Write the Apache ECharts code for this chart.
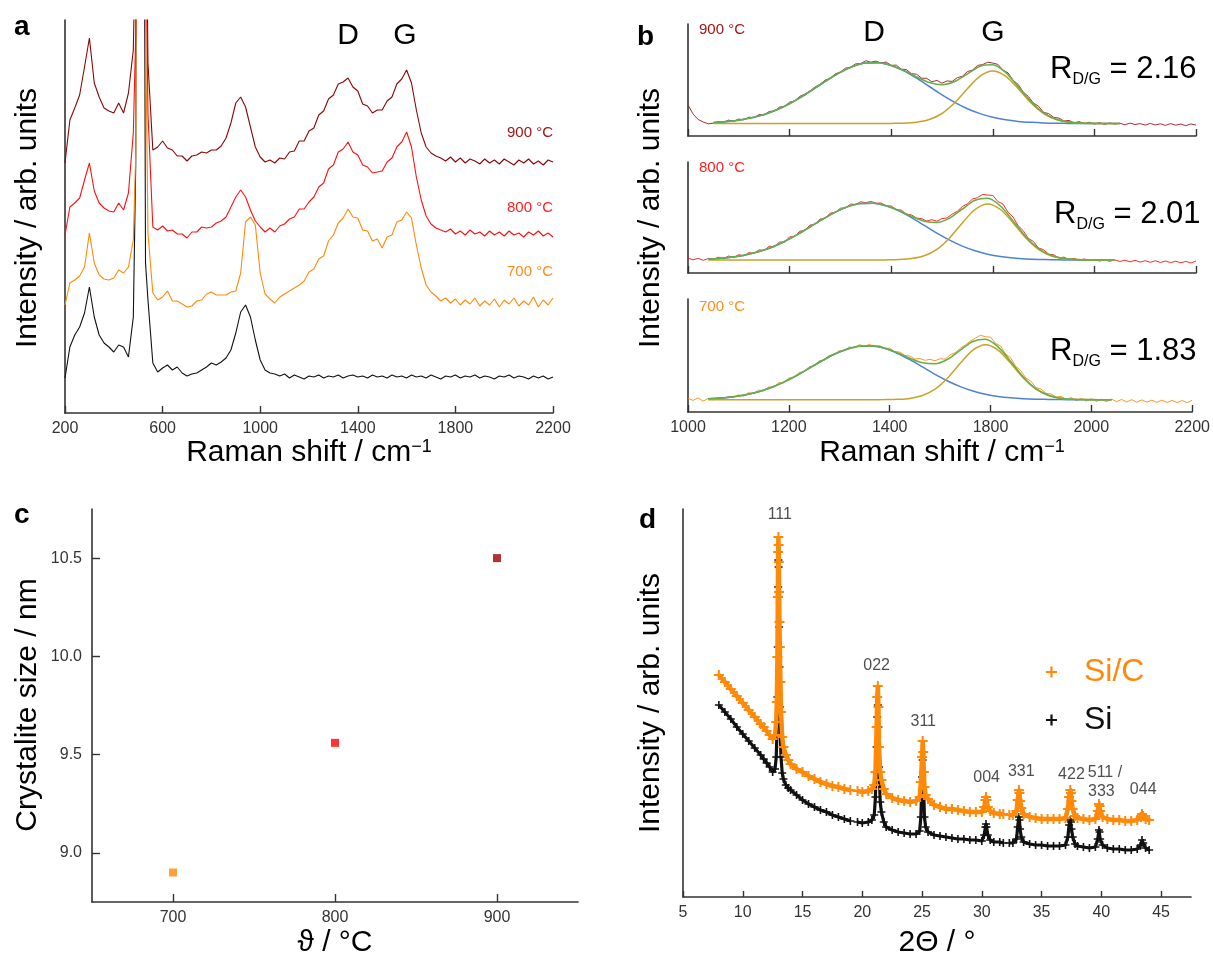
<!DOCTYPE html>
<html><head><meta charset="utf-8">
<script src="https://cdn.jsdelivr.net/npm/echarts@6/dist/echarts.min.js"></script>
<style>html,body{margin:0;padding:0;background:#fff}#c{width:1213px;height:959px}</style>
</head><body><div id="c"></div>
<script>
const FONT = "'Liberation Sans', Arial, Helvetica, sans-serif";
const range = (a, b, s) => { const r = []; for (let v = a; v <= b + 1e-9; v += s) r.push(v); return r; };

// ---------- Panel a: Raman spectra (arb. units) ----------
const ramanAShift = [...range(200, 480, 20), 490, 500, 510, 520, 530, ...range(540, 2200, 20)];
const ramanA_Si = [
 35,66,78,86,100,126,96,78,70,66,
 61,68,66,56,96,250,2000,2000,900,150,113,50,41,
 45,48,43,46,40,37,39,40,43,46,
 50,48,51,55,63,80,101,108,96,73,
 53,43,40,39,37,39,35,38,36,34,
 37,36,38,35,37,36,38,35,37,38,
 36,37,35,38,36,37,35,38,36,37,
 35,38,36,37,35,38,36,34,37,36,
 38,35,37,36,38,35,37,36,34,37,
 36,38,35,37,36,34,37,35,37,34,
 36];
const ramanA_700 = [
 108,130,133,137,146,180,150,138,134,133,
 135,143,140,146,173,260,2000,2000,1200,400,180,120,113,
 116,122,112,112,109,106,107,112,113,119,
 121,118,118,118,121,122,140,191,196,188,
 140,119,114,110,116,119,122,125,128,132,
 141,144,154,157,172,178,190,195,204,196,
 195,183,182,172,174,165,176,178,191,193,
 201,195,168,145,128,121,117,112,115,110,
 114,108,113,109,115,107,112,108,114,106,
 113,109,115,107,112,108,116,106,113,108,
 115];
const ramanA_800 = [
 178,206,210,215,233,250,222,210,205,202,
 201,210,203,220,280,380,2000,2000,1200,500,300,186,183,
 187,182,183,179,179,175,181,181,186,185,
 186,190,192,196,206,216,223,216,203,192,
 186,181,185,181,187,189,194,196,204,204,
 211,216,226,230,244,248,261,264,271,261,
 258,248,246,240,241,242,251,255,266,271,
 281,266,236,213,197,189,185,183,181,184,
 179,182,178,183,179,181,177,182,178,181,
 177,182,178,180,176,181,178,182,177,180,
 176];
const ramanA_900 = [
 250,293,305,318,346,375,330,316,305,302,
 300,310,300,320,363,500,2000,2000,1200,600,350,263,266,
 272,265,263,257,257,252,257,258,261,260,
 263,263,267,275,290,310,316,306,286,266,
 256,251,253,250,255,254,261,262,272,272,
 282,285,298,302,314,318,329,331,335,326,
 322,309,307,300,303,303,312,316,329,334,
 343,330,303,280,266,260,257,255,252,256,
 251,255,250,254,252,249,254,250,253,249,
 254,251,248,253,250,254,249,252,248,253,
 251];
const ramanATicks = [200, 600, 1000, 1400, 1800, 2200];

// ---------- Panel b: D/G region, data 1000..2000 step 10, fits step 25 ----------
const ramanBStart = 1000, ramanBStep = 10;
const ramanBTickLabels = ['1000', '1200', '1400', '1800', '2000', '2200'];
const ramanB_900 = [
 31,22,16.5,14,12.2,12.8,14.5,13.4,15.9,14.6,
 16.9,16.1,18.9,18.2,21.5,21.1,24.6,24.8,28.9,29.6,
 33.8,35.0,39.6,41.9,45.1,48.9,51.7,55.9,57.6,62.2,
 63.9,67.8,68.9,72.1,72.4,75.3,73.8,74.9,72.9,74.0,
 70.6,70.9,66.8,66.4,62.3,61.8,57.8,57.6,54.2,55.6,
 52.8,55.1,54.6,58.3,59.7,64.4,65.9,70.6,71.4,73.8,
 72.9,71.6,66.0,63.2,55.6,51.6,43.9,39.5,32.9,29.8,
 23.6,22.4,18.6,17.9,15.0,15.6,13.1,14.4,12.4,13.8,
 12.0,13.3,11.6,13.0,11.9,12.8,11.2,12.9,11.5,12.4,
 10.9,12.6,11.0,12.2,10.6,12.4,10.8,11.9,10.3,12.1,
 10.9];
const ramanB_800 = [
 14.8,13.2,14.6,12.7,14.5,13.6,15.8,14.3,17.0,15.4,
 18.3,17.1,20.4,19.5,23.1,22.6,26.8,26.1,31.0,30.8,
 36.2,36.4,41.8,42.7,47.9,48.8,54.0,54.6,59.9,60.4,
 64.8,65.1,68.9,68.5,71.3,70.2,71.6,69.8,70.0,67.2,
 67.0,63.4,62.9,58.8,58.1,54.9,54.4,52.0,53.3,51.8,
 54.4,55.0,58.9,61.6,66.5,69.1,74.0,75.4,78.6,77.9,
 77.6,71.5,68.9,60.8,55.9,47.2,42.3,34.6,31.5,25.0,
 23.3,18.8,18.2,15.0,15.9,13.4,14.7,12.6,14.1,12.3,
 13.6,11.9,13.2,11.7,13.1,11.5,12.8,11.2,12.6,10.9,
 12.3,10.7,12.2,10.5,12.0,10.4,11.8,10.2,11.6,10.0,
 12.0];
const ramanB_700 = [
 13.8,11.6,14.2,10.9,13.5,12.1,14.6,13.0,15.7,14.4,
 17.2,15.8,19.3,18.4,21.9,21.2,25.1,24.6,29.3,29.1,
 34.1,34.4,39.5,40.2,45.3,46.0,51.2,51.7,56.6,57.1,
 61.3,61.2,65.0,64.1,67.4,65.6,67.7,65.2,66.4,63.6,
 63.8,60.4,59.9,56.6,55.9,53.0,53.4,51.7,52.6,51.3,
 53.2,52.9,57.2,59.3,63.8,66.9,71.0,73.9,76.8,75.2,
 74.9,68.6,66.0,57.8,54.1,45.6,41.5,33.9,31.0,24.3,
 23.1,18.7,18.0,14.8,15.6,12.5,14.4,11.4,13.7,10.9,
 13.2,10.6,12.8,10.3,12.9,10.4,12.5,10.0,12.3,9.8,
 12.1,9.9,11.8,9.6,11.9,9.5,11.6,9.4,11.5,9.3,
 11.8];
const fitStep = 25;
const fitStart_900 = 1050, fitStart_800 = 1040, fitStart_700 = 1040;
const fitD_900 = [13.5,14.4,15.8,18.2,21.5,26.2,32.3,39.6,47.8,56.2,63.7,69.6,73.0,73.3,70.5,65.1,57.8,49.5,41.2,33.7,27.3,22.4,18.7,16.2,14.6,13.7,13.1,12.8,12.6,12.5,12.5,12.5,12.5];
const fitG_900 = [12.5,12.5,12.5,12.5,12.5,12.5,12.5,12.5,12.5,12.5,12.5,12.5,12.5,12.5,12.6,12.8,13.8,16.5,22.5,33.2,47.3,59.9,65.0,59.9,47.3,33.2,22.5,16.5,13.8,12.8,12.6,12.5,12.5];
const fitSum_900 = [13.5,14.4,15.8,18.2,21.5,26.2,32.3,39.6,47.8,56.2,63.7,69.6,73.0,73.3,70.6,65.4,59.1,53.5,51.2,54.4,62.1,69.8,71.2,63.6,49.4,34.4,23.1,16.8,13.9,12.8,12.6,12.5,12.5];
const fitD_800 = [13.9,14.8,16.1,18.3,21.4,25.8,31.5,38.4,46.0,53.8,60.9,66.4,69.5,69.8,67.2,62.1,55.3,47.6,39.8,32.8,26.9,22.2,18.8,16.5,15.0,14.1,13.6,13.3,13.1,13.0,13.0,13.0,13.0];
const fitG_800 = [13,13,13,13,13,13,13,13,13,13,13,13,13,13,13.1,13.4,14.4,17.2,23.7,35.1,50.1,63.5,69.0,63.5,50.1,35.1,23.7,17.2,14.4,13.4,13.1,13.0,13.0];
const fitSum_800 = [13.9,14.8,16.1,18.3,21.4,25.8,31.5,38.4,46.0,53.8,60.9,66.4,69.5,69.8,67.3,62.5,56.7,51.8,50.5,54.9,64.0,72.7,74.8,67.0,52.1,36.2,24.4,17.5,14.5,13.4,13.1,13.0,13.0];
const fitD_700 = [13.2,14.0,15.3,17.3,20.3,24.5,29.9,36.3,43.6,51.0,57.7,62.8,65.8,66.1,63.7,58.8,52.4,45.1,37.7,31.0,25.4,21.0,17.8,15.6,14.2,13.3,12.8,12.6,12.4,12.3,12.3,12.3,12.3];
const fitG_700 = [12.3,12.3,12.3,12.3,12.3,12.3,12.3,12.3,12.3,12.3,12.3,12.3,12.3,12.3,12.4,12.7,13.6,16.5,22.8,34.0,48.7,61.9,67.3,61.9,48.7,34.0,22.8,16.5,13.6,12.7,12.4,12.3,12.3];
const fitSum_700 = [13.2,14.0,15.3,17.3,20.3,24.5,29.9,36.3,43.6,51.0,57.7,62.8,65.8,66.1,63.8,59.2,53.7,49.3,48.2,52.7,61.8,70.6,72.8,65.2,50.6,35.0,23.3,16.8,13.7,12.7,12.4,12.3,12.3];
const ratioText = ['2.16', '2.01', '1.83'];

// ---------- Panel c: crystallite size ----------
const crystTemp = [700, 800, 900];
const crystSize = [8.90, 9.56, 10.50];
const crystXTicks = [700, 800, 900];
const crystYTicks = [9.0, 9.5, 10.0, 10.5];

// ---------- Panel d: XRD ----------
const xrdAngle = [8.0,8.5,9.0,9.5,10.0,10.5,11.0,11.5,11.75,12.0,12.25,12.5,12.7,12.8,12.85,12.9,12.93,12.96,12.98,13.0,13.02,13.04,13.07,13.1,13.15,13.2,13.3,13.4,13.6,13.8,14.0,14.5,15.0,15.5,16.0,16.5,17.0,17.5,18.0,18.5,19.0,19.3,19.6,20.0,20.5,20.8,21.0,21.1,21.2,21.25,21.3,21.35,21.4,21.5,21.6,21.8,22.0,22.5,23.0,23.5,24.0,24.5,24.8,24.9,25.0,25.05,25.1,25.15,25.2,25.3,25.5,26.0,26.5,27.0,27.5,28.0,28.5,29.0,29.5,30.0,30.2,30.3,30.35,30.4,30.5,30.7,31.0,31.5,31.8,32.0,32.3,32.6,32.9,33.0,33.1,33.15,33.2,33.3,33.5,34.0,34.5,35.0,35.5,36.0,36.5,37.0,37.2,37.3,37.4,37.45,37.5,37.6,37.8,38.0,38.5,39.0,39.5,39.7,39.8,39.85,39.9,40.1,40.5,41.0,41.5,42.0,42.5,43.0,43.3,43.4,43.5,43.7,44.0];
const xrdSiC = [222,215,208,201,194,187,180,173,170,166,162,158,162,175,195,240,300,345,360,352,335,305,275,250,215,185,160,150,142,137,133,128,125,121,118,115,113,111,110,108,107,null,106,105,106,108,112,125,170,200,211,190,150,125,117,108,103,99,97,96,95,96,100,115,140,156,145,125,110,102,98,92,90,88,88,87,86,85,85,85,90,97,100,97,90,86,84,83,83,null,82,82,86,97,107,104,96,89,83,80,79,78,78,78,78,79,88,100,107,104,96,88,81,79,78,77,78,86,93,91,86,80,78,77,77,76,76,77,80,83,81,78,77];
const xrdSi = [192,185,178,170,163,156,149,142,138,134,130,125,128,140,160,200,250,310,337,330,300,270,230,190,160,140,124,118,112,109,107,102,97,93,90,87,85,82,80,78,76,null,75,74,75,77,82,100,150,180,192,170,130,95,85,75,70,67,65,64,63,63,66,80,120,137,125,100,80,70,65,62,61,60,59,58,58,57,57,56,62,70,73,70,62,57,55,55,54,null,54,54,58,70,80,77,68,60,55,53,52,52,51,51,51,52,60,72,77,75,68,60,53,51,50,49,50,58,67,65,58,52,49,48,48,47,47,48,52,57,54,49,47];
const xrdTicks = [5, 10, 15, 20, 25, 30, 35, 40, 45];
const xrdPeakText = ['111', '022', '311', '004', '331', '422', '511 /', '333', '044'];
const xrdPeakAngle = [13.1, 21.2, 25.1, 30.4, 33.3, 37.5, 40.3, 40.0, 43.5];
const xrdPeakHeight = [382, 231, 175, 119, 125, 122, 124, 105, 107];

// ---------- styles ----------
const C_BLACK = '#111', C_ORANGE = '#ff8a0a', C_RED = '#ff1010', C_DARK = '#8b0606';
const C_BLUE = '#4d82d6', C_GOLD = '#c9a227', C_GREEN = '#67ad48';
const CROSS = 'path://M4,0H6V4H10V6H6V10H4V6H0V4H4Z';

const onGrid = (arr, start, step) => arr.map((v, i) => [start + i * step, v]);
const pair = (xs, ys) => ys.map((v, i) => [xs[i], v]);

const axisLine = {show: true, onZero: false, lineStyle: {color: '#333', width: 1.6}};
const tick = {show: true, inside: true, length: 7, lineStyle: {color: '#333', width: 1.4}};
const lab = {color: '#333', fontSize: 16, fontFamily: FONT, margin: 8};
const noSplit = {show: false};
const hiddenY = (gi, max) => ({gridIndex: gi, type: 'value', min: 0, max: max, axisLine: axisLine,
  axisTick: {show: false}, axisLabel: {show: false}, splitLine: noSplit});

function lineS(xi, data, color, width) {
  return {type: 'line', xAxisIndex: xi, yAxisIndex: xi, data: data, showSymbol: false, symbol: 'none',
    lineStyle: {color: color, width: width}, silent: true, animation: false, z: 2};
}

const series = [
  lineS(0, pair(ramanAShift, ramanA_Si), C_BLACK, 1.1),
  lineS(0, pair(ramanAShift, ramanA_700), C_ORANGE, 1.1),
  lineS(0, pair(ramanAShift, ramanA_800), C_RED, 1.1),
  lineS(0, pair(ramanAShift, ramanA_900), C_DARK, 1.1),
];
const bSets = [
  [ramanB_900, '#a0151a', fitStart_900, fitD_900, fitG_900, fitSum_900],
  [ramanB_800, C_RED, fitStart_800, fitD_800, fitG_800, fitSum_800],
  [ramanB_700, C_ORANGE, fitStart_700, fitD_700, fitG_700, fitSum_700]
];
bSets.forEach((s, k) => {
  const ax = k + 1;
  series.push(lineS(ax, onGrid(s[0], ramanBStart, ramanBStep), s[1], 0.9));
  series.push(Object.assign(lineS(ax, onGrid(s[3], s[2], fitStep), C_BLUE, 1.5), {smooth: 0.3}));
  series.push(Object.assign(lineS(ax, onGrid(s[4], s[2], fitStep), C_GOLD, 1.5), {smooth: 0.3}));
  series.push(Object.assign(lineS(ax, onGrid(s[5], s[2], fitStep), C_GREEN, 1.6), {smooth: 0.3}));
});
const crystColors = [C_ORANGE, '#f00', '#a00000'];
series.push({type: 'scatter', xAxisIndex: 4, yAxisIndex: 4, symbol: 'rect', symbolSize: 8, silent: true, animation: false,
  data: crystTemp.map((t, i) => ({value: [t, crystSize[i]], itemStyle: {color: crystColors[i]}}))});
series.push({type: 'line', name: 'Si', xAxisIndex: 5, yAxisIndex: 5, data: pair(xrdAngle, xrdSi), z: 2,
  symbol: CROSS, symbolSize: 8, showSymbol: true, connectNulls: false, itemStyle: {color: '#111'},
  lineStyle: {color: '#111', width: 3.2}, silent: true, animation: false});
series.push({type: 'line', name: 'Si/C', xAxisIndex: 5, yAxisIndex: 5, data: pair(xrdAngle, xrdSiC), z: 3,
  symbol: CROSS, symbolSize: 10, showSymbol: true, connectNulls: false, itemStyle: {color: C_ORANGE},
  lineStyle: {color: C_ORANGE, width: 4.5}, silent: true, animation: false});
series.push({type: 'scatter', xAxisIndex: 5, yAxisIndex: 5, symbolSize: 1, itemStyle: {color: 'rgba(0,0,0,0)'},
  silent: true, animation: false, z: 4, data: pair(xrdPeakAngle, xrdPeakHeight),
  label: {show: true, position: 'inside', formatter: p => xrdPeakText[p.dataIndex], color: '#222', fontSize: 16, fontFamily: FONT}});

// ---------- text ----------
function T(x, y, text, size, o) {
  o = o || {};
  return {type: 'text', x: x, y: y, rotation: o.rot || 0, silent: true, z: 100,
    style: Object.assign({text: text, fontSize: size, fontFamily: FONT, fill: o.color || '#000',
      fontWeight: o.bold ? 'bold' : 'normal', align: o.align || 'center', verticalAlign: 'middle'}, o.extra || {})};
}
const supRich = {t: {fontSize: 30, lineHeight: 30, fontFamily: FONT, fill: '#000'},
                 p: {fontSize: 18, lineHeight: 18, fontFamily: FONT, fill: '#000', verticalAlign: 'top'}};
const subRich = {r: {fontSize: 31, lineHeight: 38, fontFamily: FONT, fill: '#000'},
                 s: {fontSize: 16, lineHeight: 16, fontFamily: FONT, fill: '#000', verticalAlign: 'bottom'}};
const R90 = Math.PI / 2;
const graphic = [
  T(14, 27, 'a', 28, {bold: true, align: 'left'}),
  T(637, 37, 'b', 28, {bold: true, align: 'left'}),
  T(14, 515, 'c', 28, {bold: true, align: 'left'}),
  T(639, 520, 'd', 28, {bold: true, align: 'left'}),
  T(28, 218, 'Intensity / arb. units', 30, {rot: R90}),
  T(651, 218, 'Intensity / arb. units', 30, {rot: R90}),
  T(28, 705, 'Crystalite size / nm', 30, {rot: R90}),
  T(651, 703, 'Intensity / arb. units', 30, {rot: R90}),
  T(309, 453, '{t|Raman shift / cm}{p|−1}', 30, {extra: {rich: supRich}}),
  T(942, 453, '{t|Raman shift / cm}{p|−1}', 30, {extra: {rich: supRich}}),
  T(335, 943, 'ϑ / °C', 30),
  T(937, 943, '2Θ / °', 30),
  T(348, 36, 'D', 30), T(405, 36, 'G', 30),
  T(874, 33, 'D', 30), T(993, 33, 'G', 30),
  T(553, 133, '900 °C', 15, {align: 'right', color: '#a31515'}),
  T(553, 208, '800 °C', 15, {align: 'right', color: '#ff2020'}),
  T(553, 272, '700 °C', 15, {align: 'right', color: '#ff8c1a'}),
  T(699, 30, '900 °C', 15, {align: 'left', color: '#a31515'}),
  T(699, 168, '800 °C', 15, {align: 'left', color: '#ff2020'}),
  T(699, 307, '700 °C', 15, {align: 'left', color: '#ff8c1a'}),
  T(1050, 69, '{r|R}{s|D/G}{r| = ' + ratioText[0] + '}', 31, {align: 'left', extra: {rich: subRich}}),
  T(1054, 214, '{r|R}{s|D/G}{r| = ' + ratioText[1] + '}', 31, {align: 'left', extra: {rich: subRich}}),
  T(1050, 351, '{r|R}{s|D/G}{r| = ' + ratioText[2] + '}', 31, {align: 'left', extra: {rich: subRich}})
];

const option = {
  backgroundColor: '#fff',
  animation: false,
  textStyle: {fontFamily: FONT},
  grid: [
    {left: 65, top: 20, width: 488, height: 393},
    {left: 688, top: 24, width: 508, height: 112},
    {left: 688, top: 162, width: 508, height: 111},
    {left: 688, top: 299, width: 508, height: 113},
    {left: 92, top: 509, width: 486, height: 393},
    {left: 683, top: 509, width: 508, height: 388}
  ],
  xAxis: [
    {gridIndex: 0, type: 'value', min: 200, max: 2200, axisLine: axisLine,
      axisTick: Object.assign({}, tick, {customValues: ramanATicks}),
      axisLabel: Object.assign({}, lab, {customValues: ramanATicks, formatter: v => String(v)}), splitLine: noSplit},
    {gridIndex: 1, type: 'value', min: 1000, max: 2000, interval: 200, axisLine: axisLine, axisTick: tick, axisLabel: {show: false}, splitLine: noSplit},
    {gridIndex: 2, type: 'value', min: 1000, max: 2000, interval: 200, axisLine: axisLine, axisTick: tick, axisLabel: {show: false}, splitLine: noSplit},
    {gridIndex: 3, type: 'value', min: 1000, max: 2000, interval: 200, axisLine: axisLine, axisTick: tick,
      axisLabel: Object.assign({}, lab, {formatter: v => ramanBTickLabels[Math.round((v - 1000) / 200)]}), splitLine: noSplit},
    {gridIndex: 4, type: 'value', min: 650, max: 950, axisLine: axisLine,
      axisTick: Object.assign({}, tick, {length: 8, customValues: crystXTicks}),
      axisLabel: Object.assign({}, lab, {customValues: crystXTicks, formatter: v => String(v)}), splitLine: noSplit},
    {gridIndex: 5, type: 'value', min: 5, max: 47.5, axisLine: axisLine,
      axisTick: Object.assign({}, tick, {length: 6, customValues: xrdTicks}),
      axisLabel: Object.assign({}, lab, {customValues: xrdTicks}), splitLine: noSplit}
  ],
  yAxis: [
    hiddenY(0, 393), hiddenY(1, 112), hiddenY(2, 111), hiddenY(3, 113),
    {gridIndex: 4, type: 'value', min: 8.75, max: 10.75, axisLine: axisLine,
      axisTick: Object.assign({}, tick, {length: 8, customValues: crystYTicks}),
      axisLabel: Object.assign({}, lab, {margin: 10, customValues: crystYTicks, formatter: v => v.toFixed(1)}), splitLine: noSplit},
    hiddenY(5, 388)
  ],
  legend: {orient: 'vertical', left: 1041, top: 651, itemWidth: 11, itemHeight: 11, itemGap: 16, selectedMode: false,
    textStyle: {fontSize: 32, fontFamily: FONT, padding: [0, 0, 0, 22]},
    data: [
      {name: 'Si/C', icon: CROSS, itemStyle: {color: C_ORANGE}, textStyle: {color: C_ORANGE}},
      {name: 'Si', icon: CROSS, itemStyle: {color: '#111'}, textStyle: {color: '#111'}}
    ]},
  series: series,
  graphic: graphic
};
const chart = echarts.init(document.getElementById('c'), null, {renderer: 'canvas', width: 1213, height: 959});
chart.setOption(option);
</script></body></html>
